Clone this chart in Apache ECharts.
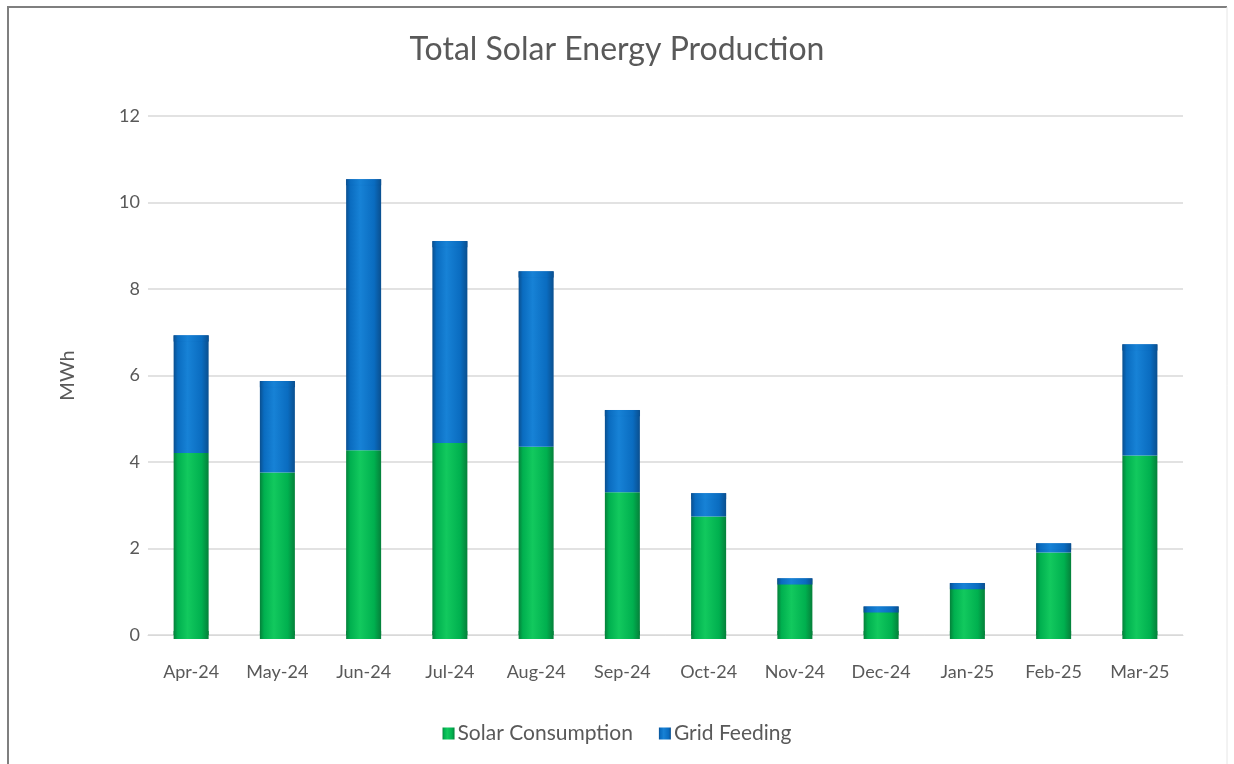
<!DOCTYPE html>
<html>
<head>
<meta charset="utf-8">
<script src="https://cdn.jsdelivr.net/npm/echarts@6/dist/echarts.min.js"></script>
<style>
  html, body { margin: 0; padding: 0; background: #fff; }
  #chart { width: 1234px; height: 764px; }
</style>
</head>
<body>
<div id="chart"></div>
<script>
// Monthly solar production, MWh
const months = ['Apr-24', 'May-24', 'Jun-24', 'Jul-24', 'Aug-24', 'Sep-24', 'Oct-24', 'Nov-24', 'Dec-24', 'Jan-25', 'Feb-25', 'Mar-25'];
const solarConsumption = [4.21, 3.76, 4.27, 4.44, 4.35, 3.30, 2.74, 1.25, 0.61, 1.12, 1.91, 4.15];
const gridFeeding = [2.72, 2.11, 6.27, 4.67, 4.06, 1.90, 0.54, 0.06, 0.05, 0.08, 0.21, 2.57];
const yTicks = [0, 2, 4, 6, 8, 10, 12];

const totals = solarConsumption.map((v, i) => +(v + gridFeeding[i]).toFixed(2));

const FONT = 'Lato, "Open Sans", sans-serif';
const TEXT = '#595959';
const BAR_W = 35;

// horizontal shading so each bar reads as a cylinder
function cylinder(dark, mid, light) {
  return new echarts.graphic.LinearGradient(0, 0, 1, 0, [
    { offset: 0, color: dark },
    { offset: 0.12, color: mid },
    { offset: 0.4, color: light },
    { offset: 0.8, color: mid },
    { offset: 1, color: dark }
  ]);
}
const greenFill = cylinder('#05803a', '#00b04f', '#12c95e');
const blueFill = cylinder('#0a4f8f', '#0a6cc0', '#1782d6');

const chart = echarts.init(document.getElementById('chart'), null, { renderer: 'canvas' });

chart.setOption({
  backgroundColor: '#ffffff',
  animation: false,
  title: {
    text: 'Total Solar Energy Production',
    left: 'center',
    top: 29,
    textStyle: { fontFamily: FONT, fontSize: 32, fontWeight: 'normal', color: TEXT }
  },
  legend: {
    bottom: 15,
    left: 'center',
    itemWidth: 12,
    itemHeight: 12,
    itemGap: 26,
    icon: 'rect',
    data: ['Solar Consumption', 'Grid Feeding'],
    textStyle: { fontFamily: FONT, fontSize: 21, color: TEXT, padding: [0, 0, 0, -2] }
  },
  grid: { left: 148, right: 51, top: 116, bottom: 129, containLabel: false },
  xAxis: {
    type: 'category',
    data: months,
    axisTick: { show: false },
    axisLine: { show: true, lineStyle: { color: '#d9d9d9', width: 1 } },
    axisLabel: { fontFamily: FONT, fontSize: 18, color: TEXT, margin: 28 }
  },
  yAxis: {
    type: 'value',
    min: yTicks[0],
    max: yTicks[yTicks.length - 1],
    interval: 2,
    name: 'MWh',
    nameLocation: 'middle',
    nameGap: 70,
    nameRotate: 90,
    nameTextStyle: { fontFamily: FONT, fontSize: 20, color: TEXT },
    axisLine: { show: false },
    axisTick: { show: false },
    axisLabel: { fontFamily: FONT, fontSize: 18, color: TEXT, margin: 8 },
    splitLine: { lineStyle: { color: '#d9d9d9', width: 1.5 } }
  },
  series: [
    {
      name: 'Solar Consumption',
      type: 'bar',
      stack: 'total',
      barWidth: BAR_W,
      data: solarConsumption,
      itemStyle: { color: greenFill }
    },
    {
      name: 'Grid Feeding',
      type: 'bar',
      stack: 'total',
      barWidth: BAR_W,
      data: gridFeeding,
      itemStyle: { color: blueFill }
    },
    // rounded base of each cylinder
    {
      name: 'base',
      type: 'pictorialBar',
      symbol: 'ellipse',
      symbolSize: [BAR_W, 8],
      symbolPosition: 'start',
      symbolOffset: [0, '50%'],
      data: solarConsumption.map(() => 0.0001),
      itemStyle: { color: greenFill },
      z: 1,
      legendHoverLink: false,
      silent: true,
      tooltip: { show: false }
    },
    // top cap of each cylinder
    {
      name: 'cap',
      type: 'pictorialBar',
      symbol: 'ellipse',
      symbolSize: [BAR_W, 6],
      symbolPosition: 'end',
      symbolOffset: [0, 0],
      data: totals,
      itemStyle: { color: blueFill, borderColor: '#0b5aa3', borderWidth: 0.8 },
      z: 3,
      legendHoverLink: false,
      silent: true,
      tooltip: { show: false }
    }
  ],
  graphic: [
    // chart frame
    { type: 'line', shape: { x1: 7, y1: 7, x2: 1227, y2: 7 }, style: { stroke: '#7f7f7f', lineWidth: 2 } },
    { type: 'line', shape: { x1: 8, y1: 6, x2: 8, y2: 764 }, style: { stroke: '#7f7f7f', lineWidth: 2 } },
    { type: 'line', shape: { x1: 1227, y1: 7, x2: 1227, y2: 764 }, style: { stroke: '#e6e6e6', lineWidth: 1 } }
  ]
});
</script>
</body>
</html>
